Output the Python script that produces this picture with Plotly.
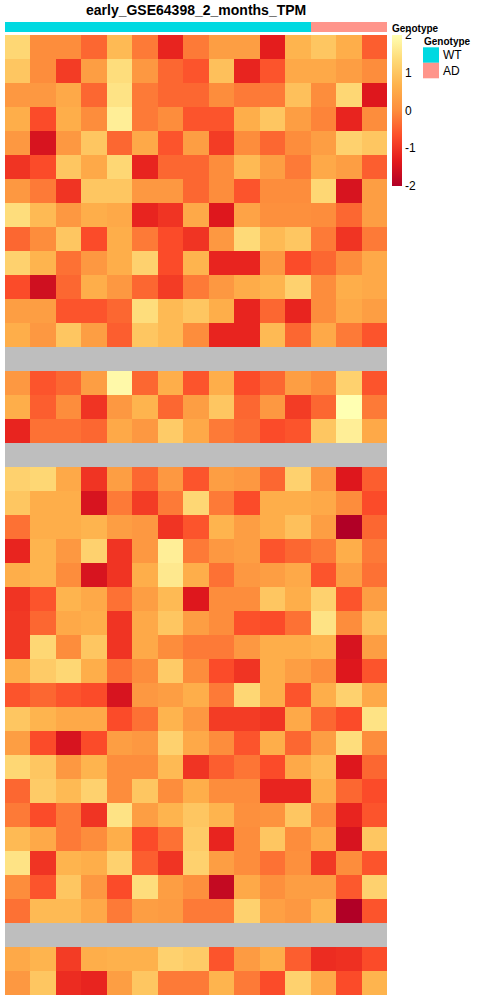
import plotly.graph_objects as go

W, H = 491, 1000

title_text = "early_GSE64398_2_months_TPM"
samples = [f"WT{i}" for i in range(1, 13)] + [f"AD{i}" for i in range(1, 4)]
genotype = ["WT"] * 12 + ["AD"] * 3
genotype_colors = {"WT": "#00D9E1", "AD": "#FF958B"}
color_ticks = [-2, -1, 0, 1, 2]

# z-scored expression, rows top to bottom (None = missing row, drawn grey)
NA = None
expr = [
    [1.3, 0.0, 0.0, -0.4, 0.8, -0.2, -1.2, -0.2, 0.3, 0.3, -1.3, 0.7, 1.0, 0.6, -0.5],
    [1.0, 0.0, -0.9, 0.3, 1.4, 0.2, -0.4, -0.6, 0.9, -1.2, -0.6, 0.5, 0.5, 0.3, 0.0],
    [0.2, 0.2, 0.5, -0.4, 1.5, -0.2, -0.4, -0.4, 0.0, -0.2, -0.2, 0.9, 0.0, 1.3, -1.4],
    [0.6, -0.7, 0.6, 0.0, 1.7, -0.2, 0.0, -0.6, -0.6, 0.6, 1.0, 0.3, -0.1, -1.2, 0.0],
    [0.2, -1.5, 0.2, 1.0, -0.4, 0.5, -0.6, 0.3, -0.9, 0.0, -0.4, 0.0, 0.3, 1.2, 1.0],
    [-1.0, -0.7, 1.0, 0.5, 1.3, -1.2, -0.4, -0.4, 0.0, 0.8, 0.3, -0.2, 0.5, 0.3, -0.5],
    [0.2, -0.2, -1.0, 1.0, 1.0, 0.2, 0.2, -0.4, 0.0, -0.6, 0.0, 0.0, 1.3, -1.5, 0.3],
    [1.4, 0.8, 0.2, 0.6, 0.5, -1.2, -1.0, 0.5, -1.4, 0.4, 0.05, 0.05, 0.0, -0.4, 0.3],
    [-0.4, 0.0, 1.0, -0.7, 0.6, -0.2, -0.7, -1.0, 0.2, 1.35, 0.8, 1.0, -0.2, -1.0, -0.2],
    [1.2, 0.7, -0.3, 0.2, 0.6, 1.2, -0.7, 0.7, -1.2, -1.2, 0.2, -0.7, -0.4, 0.0, 0.5],
    [-0.7, -1.6, -0.4, 0.6, 0.2, -0.4, -0.9, -0.2, 0.2, 0.55, 0.7, 1.2, 0.0, 0.6, 0.5],
    [0.3, 0.3, -0.6, -0.6, -0.4, 1.4, 0.8, 1.0, 0.6, -1.2, -0.4, -1.2, 0.0, 0.5, 0.3],
    [0.6, 0.2, 1.0, 0.3, -0.5, 1.0, 0.8, 0.0, -1.2, -1.2, 0.8, -0.4, 0.5, -0.2, -0.6],
    [NA] * 15,
    [0.2, -0.6, -0.4, 0.3, 1.9, -0.4, 0.6, -0.6, 0.6, -0.7, -0.4, 0.3, 0.0, 1.2, -0.6],
    [0.6, -0.5, 0.0, -1.0, 0.2, 0.7, -0.4, 0.3, 1.0, -0.4, 0.2, -0.9, -0.4, 2.0, -0.2],
    [-1.2, -0.3, -0.3, -0.4, 0.5, 0.2, 1.1, 0.5, -0.2, -0.35, -0.7, -0.6, 1.0, 1.7, 0.5],
    [NA] * 15,
    [1.2, 1.3, 0.5, -1.0, 0.3, -0.4, 0.2, -0.6, 0.3, 0.2, -0.4, 1.2, 0.2, -1.4, -0.5],
    [1.0, 0.6, 0.6, -1.5, -0.2, -0.9, -0.2, 1.3, -0.2, -0.7, 0.6, 0.6, 0.5, 0.0, -0.7],
    [-0.3, 0.6, 0.6, 0.7, 0.3, 0.2, -1.0, -0.6, 0.7, 0.3, 0.6, 0.9, 0.3, -2.0, -0.4],
    [-1.2, 0.7, 0.2, 1.2, -1.0, 0.2, 1.7, -0.2, 0.2, 0.3, -0.6, -0.4, -0.2, 0.6, -0.2],
    [0.6, 0.7, 0.0, -1.5, -1.0, 0.6, 1.6, 0.6, -0.3, 0.2, 0.3, 0.5, -0.6, 0.3, -0.3],
    [-1.0, -0.6, 0.7, 0.5, -0.3, 0.3, 0.8, -1.4, 0.0, 0.0, 1.0, 0.6, 1.2, -0.6, 0.3],
    [-0.95, -0.4, 0.5, 0.6, -1.0, 0.5, 1.0, 0.3, 0.0, -0.65, -0.7, -0.3, 1.5, 0.0, 0.9],
    [-0.95, 1.3, 0.0, 1.0, -1.0, 0.5, 0.0, -0.2, -0.2, 0.2, 0.6, 0.6, 0.7, -1.5, 0.3],
    [0.6, 1.1, 1.3, 0.6, -0.3, 0.0, 1.1, 0.0, -0.7, -1.0, 0.6, 0.3, 0.0, -1.4, -0.6],
    [-0.6, -0.4, -0.6, -0.7, -1.5, 0.2, 0.3, 0.6, -0.2, 1.3, 0.6, -0.6, 0.6, 1.2, 0.5],
    [1.0, 0.7, 0.5, 0.5, -0.7, -0.3, 0.7, 0.2, -0.9, -0.9, -1.0, 0.5, -0.4, -0.7, 1.5],
    [0.3, -0.7, -1.5, -0.7, 0.3, 0.2, 1.2, 0.5, 0.0, -0.6, 0.6, -0.4, 0.3, 1.4, 0.0],
    [1.3, 1.0, 0.2, 0.7, 0.0, 0.0, 0.8, -1.0, -0.5, -0.25, -0.7, 0.5, 0.8, -1.4, -0.4],
    [-0.4, 1.1, 0.8, 1.2, 0.0, 1.0, 0.0, 0.6, 0.0, 0.0, -1.2, -1.2, 0.6, -0.4, -0.7],
    [-0.2, -0.7, -0.2, -1.0, 1.5, 0.3, 0.7, 1.0, 0.7, 0.05, 0.1, 1.0, 0.0, -1.2, -0.6],
    [0.8, 0.5, -0.2, 0.0, 0.6, -0.7, -0.3, 1.1, -1.2, 0.0, 1.0, 0.0, 0.5, -1.5, 1.0],
    [1.5, -1.0, 0.7, 0.6, 1.2, -0.5, -1.0, 1.2, 0.3, 0.0, -0.3, 0.05, -0.95, 0.0, -0.6],
    [0.0, -0.6, 1.0, 0.2, -0.7, 1.4, 0.3, 0.05, -1.75, 0.5, 0.05, 0.3, 0.3, -0.55, 1.2],
    [-0.3, 0.8, 0.8, 0.5, -0.2, 0.3, 0.25, -0.2, -0.2, 1.2, 0.35, 0.2, 0.7, -2.0, -0.6],
    [NA] * 15,
    [0.5, 0.7, -0.9, 0.6, 0.65, 0.65, 1.2, 1.1, -0.6, 0.25, 0.6, -0.5, -1.1, -1.05, -0.7],
    [0.2, 1.0, -1.1, -1.2, 0.3, 1.0, -0.2, -0.2, 0.7, -0.2, -0.7, 1.2, 0.5, -0.7, 0.7],
]
row_ids = list(range(len(expr)))

ylorrd7 = ["#b10026", "#e31a1c", "#fc4e2a", "#fd8d3c", "#feb24c", "#fed976", "#ffffb2"]
colorscale = [[i / 6, c] for i, c in enumerate(ylorrd7)]

def px(x):
    return x / W

def py(y):
    return 1 - y / H

FONT = "Arial, Liberation Sans, sans-serif"

fig = go.Figure()

fig.add_trace(go.Heatmap(
    z=expr, x=samples, y=row_ids,
    colorscale=colorscale, zmin=-2, zmax=2,
    xaxis="x", yaxis="y",
    colorbar=dict(
        x=px(392), xanchor="left", y=py(35), yanchor="top",
        len=151, lenmode="pixels", thickness=10, thicknessmode="pixels",
        xpad=0, ypad=0, outlinewidth=0, ticks="",
        tickvals=color_ticks, ticktext=[str(t) for t in color_ticks],
        tickfont=dict(family=FONT, size=12, color="#000"),
    ),
))

geno_codes = [0 if g == "WT" else 1 for g in genotype]
fig.add_trace(go.Heatmap(
    z=[geno_codes], x=samples, y=["Genotype"],
    colorscale=[[0, genotype_colors["WT"]], [0.5, genotype_colors["WT"]],
                [0.5, genotype_colors["AD"]], [1, genotype_colors["AD"]]],
    zmin=0, zmax=1, showscale=False, xaxis="x2", yaxis="y2",
))

fig.update_layout(
    width=W, height=H,
    margin=dict(l=0, r=0, t=0, b=0, autoexpand=False),
    paper_bgcolor="white",
    plot_bgcolor="#BEBEBE",
    xaxis=dict(domain=[px(5), px(387)], showticklabels=False, showgrid=False,
               zeroline=False, ticks=""),
    yaxis=dict(domain=[py(995), py(35)], range=[len(expr) - 0.5, -0.5],
               showticklabels=False, showgrid=False, zeroline=False, ticks=""),
    xaxis2=dict(domain=[px(5), px(387)], anchor="y2", showticklabels=False,
                showgrid=False, zeroline=False, ticks=""),
    yaxis2=dict(domain=[py(32), py(22)], anchor="x2", showticklabels=False,
                showgrid=False, zeroline=False, ticks=""),
    showlegend=False,
)

annotations = [
    dict(text="<b>" + title_text + "</b>", x=px(196), y=py(10), xref="paper", yref="paper",
         xanchor="center", yanchor="middle", showarrow=False,
         font=dict(family=FONT, size=14, color="#000")),
    dict(text="<b>Genotype</b>", x=px(390), y=py(28.5), xref="paper", yref="paper",
         xanchor="left", yanchor="middle", showarrow=False,
         font=dict(family=FONT, size=10, color="#000")),
    dict(text="<b>Genotype</b>", x=px(422), y=py(41), xref="paper", yref="paper",
         xanchor="left", yanchor="middle", showarrow=False,
         font=dict(family=FONT, size=10, color="#000")),
]
shapes = []
for i, g in enumerate(["WT", "AD"]):
    y0 = 47.3 + i * 15.5
    shapes.append(dict(type="rect", xref="paper", yref="paper",
                       x0=px(423), x1=px(439), y0=py(y0), y1=py(y0 + 15.5),
                       fillcolor=genotype_colors[g], line=dict(width=0)))
    annotations.append(dict(text=g, x=px(441), y=py(y0 + 8), xref="paper", yref="paper",
                            xanchor="left", yanchor="middle", showarrow=False,
                            font=dict(family=FONT, size=12, color="#000")))

fig.update_layout(annotations=annotations, shapes=shapes)
fig.write_html("out.html", config={"displayModeBar": False},
               post_script="document.body.style.margin='0';document.body.style.overflow='hidden';")
